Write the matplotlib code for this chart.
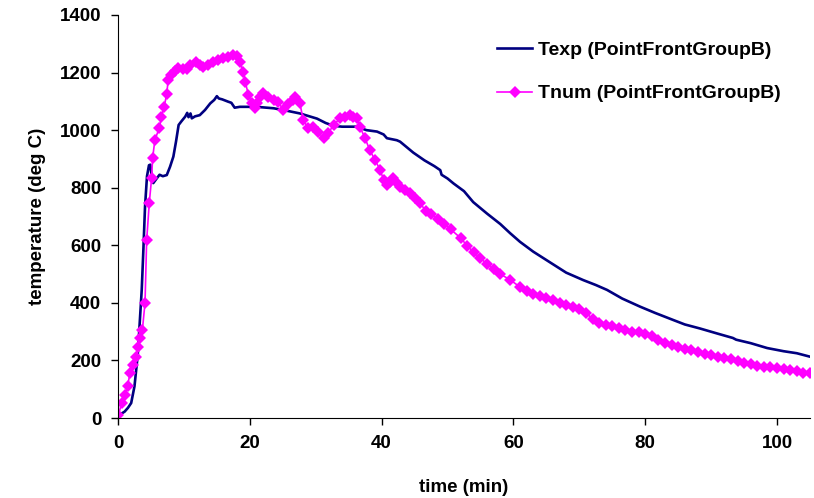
import matplotlib
matplotlib.use("Agg")
import matplotlib.pyplot as plt

plt.rcParams['font.family'] = ['Liberation Sans', 'DejaVu Sans']
plt.rcParams['font.weight'] = 'bold'

# measured temperature (navy line)
t_exp = [0.5, 1.0, 1.5, 2.0, 2.5, 3.0, 3.4, 3.6, 3.85, 4.1, 4.4, 4.7, 4.9, 5.1, 5.35,
         5.8, 6.3, 6.8, 7.4, 7.9, 8.4, 8.8, 9.2, 9.6, 10.2, 10.5, 10.7, 11.0, 11.2, 11.7,
         12.4, 13.2, 14.0, 14.6, 15.0, 15.3, 15.8, 16.7, 17.2, 17.7, 18.5, 21.0, 23.6,
         25.5, 27.6, 30.2, 31.5, 32.7, 34.0, 36.2, 37.7, 39.3, 40.3, 40.8, 42.3, 42.8,
         44.8, 46.5, 48.0, 48.9, 49.1, 50.0, 50.9, 52.5, 53.9, 56.0, 58.0, 59.5, 61.0,
         63.0, 65.6, 68.0, 70.6, 72.5, 74.2, 76.5, 79.2, 81.5, 84.3, 86.0, 88.3, 91.0,
         93.3, 93.8, 96.0, 98.5, 101.0, 103.0, 105.0]
T_exp = [15, 22, 35, 52, 110, 220, 370, 445, 584, 734, 840, 878, 880, 840, 816,
         830, 845, 840, 844, 873, 908, 960, 1018, 1030, 1047, 1060, 1045, 1058, 1041, 1048,
         1052, 1070, 1093, 1105, 1118, 1110, 1107, 1099, 1095, 1078, 1081, 1081, 1076,
         1068, 1058, 1040, 1025, 1015, 1012, 1012, 1000, 995, 985, 972, 965, 960,
         922, 895, 875, 861, 845, 832, 815, 788, 750, 710, 674, 642, 612,
         578, 540, 505, 479, 462, 445, 415, 387, 365, 340, 325, 311, 293,
         278, 272, 260, 243, 232, 225, 213]

# numerical temperature (magenta with markers)
t_num = [0.05, 0.56, 1.06, 1.45, 1.82, 2.3, 2.8, 3.08, 3.3, 3.7, 4.1, 4.35, 4.75, 5.1,
         5.25, 5.6, 6.27, 6.6, 6.98, 7.4, 7.6, 8.1, 8.6, 9.15, 9.8, 10.4, 11.0, 11.9,
         12.4, 12.9, 13.6, 14.4, 15.1, 15.9, 16.7, 17.5, 18.0, 18.5, 19.0, 19.3, 19.8,
         20.3, 20.8, 21.1, 21.5, 22.0, 22.8, 23.6, 24.3, 25.1, 25.8, 26.6, 26.9, 27.6,
         28.1, 28.9, 29.6, 30.4, 31.2, 31.9, 32.7, 33.7, 34.5, 35.2, 35.7, 36.2, 36.7,
         37.5, 38.2, 39.0, 39.8, 40.3, 40.8, 41.3, 41.8, 42.3, 42.8, 43.5, 44.3, 45.0,
         45.8, 46.8, 47.5, 48.5, 49.5, 50.5, 52, 53, 54, 55, 56, 57, 58, 59.5, 61, 62,
         63, 64, 65, 66, 67, 68, 69, 70, 71, 72, 73, 74, 75, 76, 77, 78, 79, 80, 81,
         82, 83, 84, 85, 86, 87, 88, 89, 90, 91, 92, 93, 94, 95, 96, 97, 98, 99, 100,
         101, 102, 103, 104, 105]
T_num = [10, 52, 80, 110, 156, 184, 213, 248, 278, 306, 400, 618, 748, 833,
         903, 966, 1008, 1047, 1080, 1125, 1174, 1191, 1205, 1215, 1212, 1214, 1225, 1238,
         1228, 1220, 1228, 1238, 1243, 1250, 1255, 1261, 1258, 1238, 1203, 1168, 1122,
         1094, 1077, 1095, 1116, 1128, 1115, 1105, 1098, 1070, 1090, 1105, 1116, 1094,
         1035, 1006, 1012, 994, 971, 989, 1018, 1041, 1045, 1052, 1045, 1041, 1012,
         971, 931, 896, 861, 827, 809, 820, 833, 818, 803, 792, 781, 765,
         746, 718, 708, 690, 675, 655, 625, 598, 575, 555, 535, 518, 500, 480, 455, 440,
         432, 425, 418, 410, 400, 393, 385, 378, 365, 345, 330, 322, 318, 312, 305, 300,
         298, 293, 285, 272, 260, 252, 245, 240, 235, 230, 222, 218, 212, 208, 204, 198,
         190, 186, 182, 178, 176, 174, 170, 168, 163, 158, 155]

fig = plt.figure(figsize=(8.14, 4.98), dpi=100)
ax = fig.add_axes([118/814, 80/498, 692/814, 403/498])

ax.plot(t_exp, T_exp, color='#000080', lw=1.9, label='Texp (PointFrontGroupB)')
ax.plot(t_num, T_num, color='#FF00FF', lw=1.2, marker='D', markersize=6.5,
        markeredgewidth=0, label='Tnum (PointFrontGroupB)')

ax.set_xlim(0, 105)
ax.set_ylim(0, 1400)
ax.set_xticks([0, 20, 40, 60, 80, 100])
ax.set_yticks(range(0, 1401, 200))
ax.spines['top'].set_visible(False)
ax.spines['right'].set_visible(False)
ax.tick_params(direction='out', length=5, width=1, labelsize=13.5, pad=7)
for lab in ax.get_xticklabels() + ax.get_yticklabels():
    lab.set_fontweight('bold')

ax.set_xlabel('time (min)', fontsize=13.5, fontweight='bold', labelpad=20)
ax.set_ylabel('temperature (deg C)', fontsize=13.5, fontweight='bold', labelpad=10)

ax.legend(loc='upper left', bbox_to_anchor=(497/814, 1 - 41/498),
          bbox_transform=fig.transFigure, frameon=False, fontsize=14,
          handlelength=1.8, handletextpad=0.3, labelspacing=1.35,
          borderpad=0, borderaxespad=0)

fig.savefig('out.png', dpi=100)
